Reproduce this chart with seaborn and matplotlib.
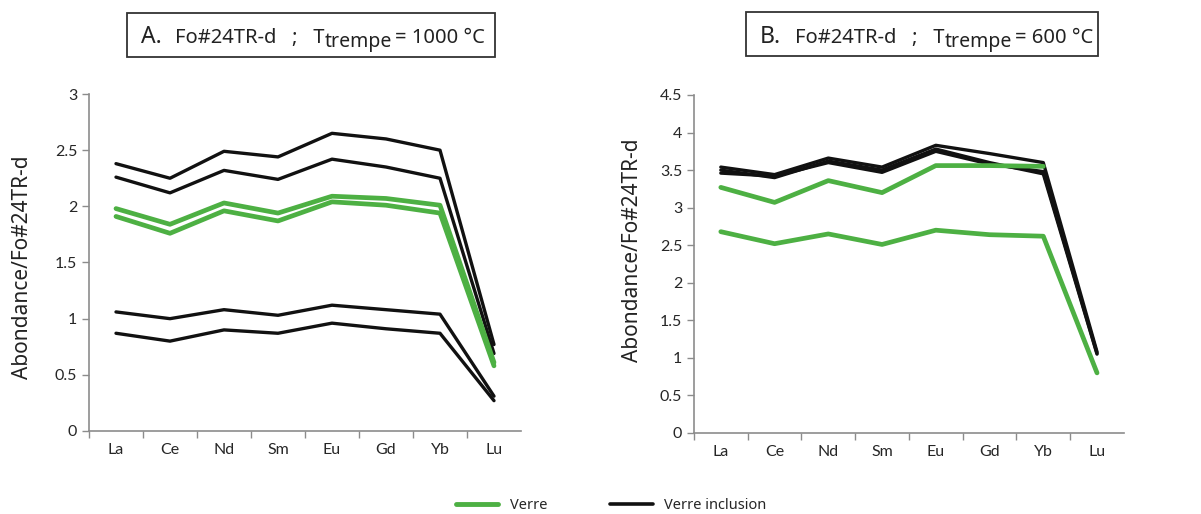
import pandas as pd
import seaborn as sns
import matplotlib.pyplot as plt
from matplotlib.lines import Line2D
from matplotlib.patches import Rectangle
from matplotlib.ticker import FuncFormatter

# éléments (terres rares)
elements = ["La", "Ce", "Nd", "Sm", "Eu", "Gd", "Yb", "Lu"]

# A. T trempe = 1000 °C
a_verre_1 = [1.98, 1.84, 2.03, 1.94, 2.09, 2.07, 2.01, 0.61]
a_verre_2 = [1.91, 1.76, 1.96, 1.87, 2.04, 2.01, 1.94, 0.58]
a_incl_1 = [2.38, 2.25, 2.49, 2.44, 2.65, 2.60, 2.50, 0.77]
a_incl_2 = [2.26, 2.12, 2.32, 2.24, 2.42, 2.35, 2.25, 0.69]
a_incl_3 = [1.06, 1.00, 1.08, 1.03, 1.12, 1.08, 1.04, 0.31]
a_incl_4 = [0.87, 0.80, 0.90, 0.87, 0.96, 0.91, 0.87, 0.27]

# B. T trempe = 600 °C
b_verre_1 = [3.27, 3.07, 3.36, 3.20, 3.56, 3.56, 3.55, None]
b_verre_2 = [2.68, 2.52, 2.65, 2.51, 2.70, 2.64, 2.62, 0.80]
b_incl_1 = [3.54, 3.44, 3.66, 3.54, 3.83, 3.72, 3.60, 1.08]
b_incl_2 = [3.50, 3.40, 3.62, 3.50, 3.78, 3.60, 3.45, 1.05]
b_incl_3 = [3.46, 3.42, 3.60, 3.47, 3.75, 3.58, 3.48, 1.06]

GREEN = "#4db043"
BLACK = "#111111"
GREY = "#8c8c8c"
TXT = "#222222"


def to_long(series):
    rows = []
    for name, vals in series.items():
        for el, v in zip(elements, vals):
            rows.append({"element": el, "value": v, "serie": name})
    return pd.DataFrame(rows).dropna()


def set_config():
    sns.set_theme(style="white")
    plt.rcParams["font.family"] = ["Noto Sans", "DejaVu Sans"]


def draw_panel(ax, verre, incl, ymax, label_xy):
    d_incl = to_long(incl)
    d_verre = to_long(verre)
    sns.lineplot(data=d_incl, x="element", y="value", units="serie", estimator=None,
                 color=BLACK, linewidth=2.4, sort=False, ax=ax)
    sns.lineplot(data=d_verre, x="element", y="value", units="serie", estimator=None,
                 color=GREEN, linewidth=3.4, sort=False, ax=ax)

    ax.set_xlim(-0.5, 7.5)
    ax.set_ylim(0, ymax)
    ax.set_yticks([i * 0.5 for i in range(int(ymax / 0.5) + 1)])
    ax.yaxis.set_major_formatter(FuncFormatter(lambda v, p: "%g" % v))
    ax.set_xticks(range(len(elements)))
    ax.set_xticklabels(elements, family=["Lato", "DejaVu Sans"], fontsize=11.5)
    ax.set_xticks([i - 0.5 for i in range(len(elements))], minor=True)
    ax.tick_params(axis="x", which="major", length=0, pad=9)
    ax.tick_params(axis="x", which="minor", length=5, width=1, color=GREY, direction="out", bottom=True)
    ax.tick_params(axis="y", length=5, width=1, color=GREY, direction="out", left=True, labelsize=11.5)
    for t in ax.get_yticklabels():
        t.set_family(["Lato", "DejaVu Sans"])
    sns.despine(ax=ax)
    for s in ["left", "bottom"]:
        ax.spines[s].set_color(GREY)
        ax.spines[s].set_linewidth(1.2)
    ax.set_xlabel("")
    ax.set_ylabel("Abondance/Fo#24TR-d", fontsize=15, color=TXT)
    ax.yaxis.set_label_coords(*label_xy)


def title_box(fig, x0, y0, w, h, letter, lx, tx, temp):
    fig.patches.append(Rectangle((x0, y0), w, h, transform=fig.transFigure,
                                 fill=False, edgecolor="#333333", linewidth=1.3))
    fig.text(lx, 0.917, letter, fontsize=16.5, va="baseline", color=TXT)
    t1 = fig.text(tx, 0.917, "Fo#24TR-d   ;   T", fontsize=14.5, va="baseline", color=TXT)
    t2 = fig.text(0, 0, "trempe", fontsize=14, va="baseline", color=TXT)
    # indice "trempe" juste après le T, un peu plus bas
    fig.canvas.draw()
    bb = t1.get_window_extent().transformed(fig.transFigure.inverted())
    t2.set_position((bb.x1 + 0.0005, 0.917 - 0.009))
    fig.canvas.draw()
    bb2 = t2.get_window_extent().transformed(fig.transFigure.inverted())
    fig.text(bb2.x1 + 0.002, 0.917, "= " + temp, fontsize=14.5, va="baseline", color=TXT)


def main():
    set_config()
    fig = plt.figure(figsize=(12.01, 5.14), dpi=100)
    ax_a = fig.add_axes([0.0741, 0.1615, 0.3597, 0.6556])
    ax_b = fig.add_axes([0.5778, 0.1576, 0.3580, 0.6576])

    draw_panel(ax_a, {"v1": a_verre_1, "v2": a_verre_2},
               {"i1": a_incl_1, "i2": a_incl_2, "i3": a_incl_3, "i4": a_incl_4},
               3.0, (-0.13, 0.487))
    draw_panel(ax_b, {"v1": b_verre_1, "v2": b_verre_2},
               {"i1": b_incl_1, "i2": b_incl_2, "i3": b_incl_3},
               4.5, (-0.119, 0.54))

    title_box(fig, 0.1057, 0.889, 0.3064, 0.0856, "A.", 0.1174, 0.1457, "1000 °C")
    title_box(fig, 0.6211, 0.891, 0.2931, 0.0856, "B.", 0.6328, 0.662, "600 °C")

    handles = [Line2D([], [], color=GREEN, linewidth=3.5),
               Line2D([], [], color=BLACK, linewidth=2.6)]
    fig.legend(handles, ["Verre", "Verre inclusion"], loc="center",
               bbox_to_anchor=(0.509, 0.0156), ncol=2, frameon=False,
               fontsize=10.5, handlelength=2.9, columnspacing=4.3, handletextpad=0.8)

    fig.savefig("out.png", dpi=100)


if __name__ == "__main__":
    main()
